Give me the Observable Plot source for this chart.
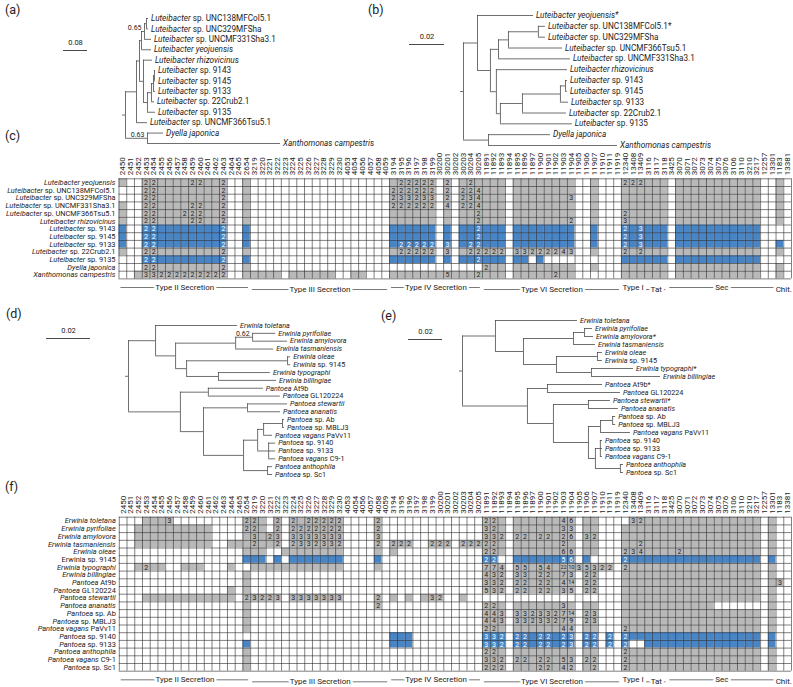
<!DOCTYPE html>
<html><head><meta charset="utf-8">
<script src="https://cdn.jsdelivr.net/npm/d3@7"></script>
<script src="https://cdn.jsdelivr.net/npm/@observablehq/plot@0.6"></script>
<style>
body{margin:0;background:#fff;}
#fig{position:relative;width:793px;height:687px;overflow:hidden;font-family:Roboto,"Open Sans",sans-serif;background:#fff;}
#fig svg{position:absolute;left:0;top:0;}
.plab{position:absolute;font-size:12.5px;color:#222;line-height:14px;}
</style></head><body><div id="fig"></div>
<script>
// ---------------- DATA ----------------
// Trees (Newick, branch lengths in substitutions/site, internal labels = support values)
const treeA = "(((((('Luteibacter sp. UNC138MFCol5.1':0.0067,'Luteibacter sp. UNC329MFSha':0.0067):0.0067,'Luteibacter sp. UNCMF331Sha3.1':0.0233)0.65:0.01,'Luteibacter yeojuensis':0.0333):0.0067,('Luteibacter rhizovicinus':0.03,(((('Luteibacter sp. 9143':0.0033,'Luteibacter sp. 9145':0.0033):0.0033,'Luteibacter sp. 9133':0.0067):0.0067,'Luteibacter sp. 22Crub2.1':0.01):0.0133,'Luteibacter sp. 9135':0.0267):0.0133):0.0133):0.01,'Luteibacter sp. UNCMF366Tsu5.1':0.0367):0.0367,('Dyella japonica':0.0533,'Xanthomonas campestris':0.4433)0.63:0.0733);";
const treeB = "(('Luteibacter yeojuensis*':0.032,(((('Luteibacter sp. UNC138MFCol5.1*':0.004,'Luteibacter sp. UNC329MFSha':0.004):0.0171,'Luteibacter sp. UNCMF366Tsu5.1':0.0309):0.0057,'Luteibacter sp. UNCMF331Sha3.1':0.0411):0.0046,('Luteibacter rhizovicinus':0.0406,(((('Luteibacter sp. 9143':0.0011,'Luteibacter sp. 9145':0.0011):0.0029,'Luteibacter sp. 9133':0.0046):0.0217,'Luteibacter sp. 22Crub2.1':0.0251):0.0126,'Luteibacter sp. 9135':0.0411):0.0023):0.0034):0.0074):0.008,('Dyella japonica':0.0354,'Xanthomonas campestris':0.0737):0.0143);";
const treeD = "(('Erwinia toletana':0.0373,((('Erwinia pyrifoliae':0.0105,'Erwinia amylovora':0.0159)0.62:0.0077,'Erwinia tasmaniensis':0.0173):0.0273,(('Erwinia oleae':0.0014,'Erwinia sp. 9145':0.0014):0.0459,('Erwinia typographi':0.0236,'Erwinia billingiae':0.0264):0.0145):0.005):0.0091):0.0123,(('Pantoea At9b':0.025,'Pantoea GL120224':0.0327):0.0127,(('Pantoea stewartii':0.0182,'Pantoea ananatis':0.015):0.02,(((('Pantoea sp. Ab':0.0009,'Pantoea sp. MBLJ3':0.0009):0.0086,'Pantoea vagans PaVv11':0.0041):0.0027,('Pantoea sp. 9140':0.0032,'Pantoea sp. 9133':0.0032,'Pantoea vagans C9-1':0.0032):0.005):0.0064,('Pantoea anthophila':0.0023,'Pantoea sp. Sc1':0.0023):0.0109):0.0182):0.0105):0.0236);";
const treeE = "(('Erwinia toletana':0.0482,((('Erwinia pyrifoliae':0.0047,'Erwinia amylovora*':0.0053):0.0065,'Erwinia tasmaniensis':0.0129):0.0294,(('Erwinia oleae':0.0029,'Erwinia sp. 9145':0.0029):0.0241,('Erwinia typographi*':0.0247,'Erwinia billingiae':0.0406):0.0206):0.0194):0.0165):0.0194,(('Pantoea At9b*':0.0324,'Pantoea GL120224':0.0429):0.0118,(('Pantoea stewartii*':0.0129,'Pantoea ananatis':0.0176):0.0206,((('Pantoea sp. Ab':0.0018,'Pantoea sp. MBLJ3':0.0018):0.0071,'Pantoea vagans PaVv11':0.0176):0.0071,(('Pantoea sp. 9140':0.0012,'Pantoea sp. 9133':0.0012,'Pantoea vagans C9-1':0.0012):0.0029,('Pantoea anthophila':0.0018,'Pantoea sp. Sc1':0.0018):0.0147):0.0041):0.0206):0.0153):0.0382);";
const scaleBarA = 0.08, scaleBarB = 0.02, scaleBarD = 0.02, scaleBarE = 0.02;

// Heatmap columns (gene ids) and functional groups
const columns = ["2450","2451","2452","2453","2454","2455","2456","2457","2458","2459","2460","2461","2462","2463","2464","2465","2654","3219","3220","3221","3222","3223","3224","3225","3226","3227","3228","3229","3230","4053","4054","4056","4057","4058","4059","3194","3195","3196","3197","3198","3199","30200","30201","30202","30203","30204","30205","11891","11892","11893","11894","11895","11896","11897","11900","11901","11902","11903","11904","11905","11906","11907","11910","11911","11919","12340","13408","13409","3116","3117","3118","3425","3070","3071","3072","3073","3074","3075","3076","3106","3110","3210","3217","12257","13301","1183","13381"];
const groupNames = ["Type II Secretion","Type III Secretion","Type IV Secretion","Type VI Secretion","Type I","Tat","Sec","Chit."];
const groupSizes = [17, 18, 12, 18, 3, 3, 14, 2];

// cell codes: "." absent, "x" present (1 copy), digit = copy number, A=10 E=14 M=22
const bigCounts = {A: 10, E: 14, M: 22};

const rowsC = ["Luteibacter yeojuensis","Luteibacter sp. UNC138MFCol5.1","Luteibacter sp. UNC329MFSha","Luteibacter sp. UNCMF331Sha3.1","Luteibacter sp. UNCMF366Tsu5.1","Luteibacter rhizovicinus","Luteibacter sp. 9143","Luteibacter sp. 9145","Luteibacter sp. 9133","Luteibacter sp. 22Crub2.1","Luteibacter sp. 9135","Dyella japonica","Xanthomonas campestris"];
const cellsC = [
 "x..22xxxx22xx2..x|..................|x22222.2.x2x|xxx.xxxxxxxx..x...|222xxx.xxxxxxxxxxx..x.",
 "...22xxxxxxxx2..x|..................|222222.2.224|xxx.xxxxxxxx..x...|xxxxxx.xxxxxxxxxxx..x.",
 "...22xxxxxxxx2..x|..................|233233.2.234|xxx.xxxxxxx3..x...|xxxxxx.xxxxxxxxxxx..x.",
 "x..22xxxx22xx2..x|..................|222222.4.224|xxx.xxxxxxxx..x...|xxxxxx.xxxxxxxxxxx..x.",
 "x..22xxx222xx2..x|..................|xxxxxx.x.xx2|xxx.xxxxxxxx..x...|2xxxxx.xxxxxxxxxxx..x.",
 "x..22xxxx22xx2..x|..................|xxxxxx.x.xx2|xxx.xxxxxxx2..x...|3xxxxx.xxxxxxxxxxx..x.",
 "x..22xxxxxxxx2..x|..................|xxxxxx.x.xx2|xxx.xxxxxxxx..x...|2x3xxx.xxxxxxxxxxx....",
 "x..22xxxxxxxx2..x|..................|xxxxxx.x.xx2|xxx.xxxxxxxx..x...|2x3xxx.xxxxxxxxxxx....",
 "x..22xxxxxxxx2..x|..................|x22222.3.x22|xxx.xxxxxxxx..x...|2x3xxx.xxxxxxxxxxx..x.",
 "x..22xxxxxxxx2..x|..................|x22222.3.x22|222.33222243..x...|2x2xxx.xxxxxxxxxxx..x.",
 "...22xxxxxxxx2..x|..................|xxxxxx.x.xx2|xxx.xx.x..........|xxxxxx.xxxxxxxxxxx....",
 "...22xxxxxxxx2..x|..................|............|2xx.xxxxxxxx..x...|xxxxxx.xxxxxxxxxxx..x.",
 "..x33222222222..x|xxxx.xxxxxx..xx...|xxxxxxx5xxx2|xxx.xxxxx2xx......|xxxxxx.xxxxxxxxxxx..x."
];
const blueC = ["Luteibacter sp. 9143","Luteibacter sp. 9145","Luteibacter sp. 9133","Luteibacter sp. 9135"];

const rowsF = ["Erwinia toletana","Erwinia pyrifoliae","Erwinia amylovora","Erwinia tasmaniensis","Erwinia oleae","Erwinia sp. 9145","Erwinia typographi","Erwinia billingiae","Pantoea At9b","Pantoea GL120224","Pantoea stewartii","Pantoea ananatis","Pantoea sp. Ab","Pantoea sp. MBLJ3","Pantoea vagans PaVv11","Pantoea sp. 9140","Pantoea sp. 9133","Pantoea anthophila","Pantoea vagans C9-1","Pantoea sp. Sc1"];
const cellsF = [
 "...xxx3.........2|2x.2.2x22222....2.|............|22x.xxxxxx46.xx...|.32xxxxxxxxxxxxxxx.x..",
 "..xxxxxxxxxx....2|2x.2.2222222....2.|............|32x.xxxxxx33.xx...|xxxxxxxxxxxxxxxxxx.x..",
 "..xxxxxxxxxx....x|3x23.3333333....3.|............|332.22x22x26.32...|xxxxxxxxxxxxxxxxxx.x..",
 "..xxxxxxxxxx..xxx|2xx2.2332332....2.|222..222.222|22x.xxxxxx2x.xx...|xx2xxxxxxxxxxxxxxx.x..",
 "................x|xx..xxxxxxxx....x.|x...........|22x.xxxxxx66.xx...|234xxxx2xxxxxxxxxx.x..",
 "................x|xx.x.xxxxxxx....x.|............|22..xxxxxx56.x....|2xxxxxxxxxxxxxxxxx.x..",
 "..x2xx..xxx...x..|xxxxxxxxxxxx....x.|............|774.55x54xMA35322.|2xxxxxxxxxxxxxxxxx.x..",
 "................x|..................|............|432.33x22x73.22...|xxxxxxxxxxxxxxxxxx.x..",
 "................x|..................|............|332.22x22x4E.22...|xxxxxxxxxxxxxxxxxx.x3.",
 "..............x.x|..................|............|532.22x22x35.22...|xxxxxxxxxxxxxxxxxx.x..",
 "...xxxxxxxxxxxx.2|3223.3333333....2.|x.x.x32..x..|..................|xxxxxxxxxxxxxxxxxx.x..",
 "................x|................2.|............|22x.xxxxxx3x.xx...|xxxxxxxxxxxx.......x..",
 "................x|..................|............|443.3323327E.23...|xxxxxxxxxxxxxxxxxx.x..",
 "................x|..................|............|443.33233279.23...|xxxxxxxxxxxxxxxxxx.x..",
 "................x|..................|............|22x.xxxxxx44.xx...|2xxxxxxxxxxxxxxxxx.x..",
 ".................|..................|xxx.........|332.22x22x23.22.2.|2xxxxxxxxxxxxxxxxx.x..",
 "................x|..................|xxx.........|332.22x22x23.22.2.|2..xxxxxxxxxxxxxxx.x..",
 "................x|..................|............|22x.xxxxxxxx.xx...|2xxxxxxxxxxxxxxxxx.x..",
 "................x|..................|............|332.22x22x53.22...|2xxxxxxxxxxxxxxxxx.x..",
 "................x|..................|............|222.xxx22x42.x2...|2xxxxxxxxxxxxxxxxx.x.."
];
const blueF = ["Erwinia sp. 9145","Pantoea sp. 9140","Pantoea sp. 9133"];
const uprightLabelsF = ["Erwinia sp. 9145"];

// ---------------- STYLE / LAYOUT ----------------
const W = 793, H = 687;
const FONT = "Roboto, 'Open Sans', sans-serif";
const INK = "#1c1c1c", BRANCH = "#4a4a4a", GRAY = "#b9b9b9", BLUE = "#4885c7", GRID = "#2b2b2b";
const NC = columns.length;
const fig = document.getElementById("fig");
const SVGNS = "http://www.w3.org/2000/svg";

function parseNewick(s) {
  let i = 0;
  function node() {
    const n = {children: [], name: "", len: 0};
    if (s[i] === "(") {
      i++; n.children.push(node());
      while (s[i] === ",") { i++; n.children.push(node()); }
      i++;
    }
    if (s[i] === "'") { const j = s.indexOf("'", i + 1); n.name = s.slice(i + 1, j); i = j + 1; }
    else { let j = i; while (j < s.length && !",():;".includes(s[j])) j++; n.name = s.slice(i, j).trim(); i = j; }
    if (s[i] === ":") { i++; let j = i; while (j < s.length && !",();".includes(s[j])) j++; n.len = +s.slice(i, j); i = j; }
    return n;
  }
  return node();
}
function layoutTree(root) {
  const nodes = [], leaves = [];
  (function walk(n, p) {
    n.parent = p; n.x = p ? p.x + n.len : 0; nodes.push(n);
    if (n.children.length) n.children.forEach(c => walk(c, n));
    else { n.y = leaves.length; leaves.push(n); }
  })(root, null);
  (function sety(n) {
    if (n.children.length) { n.children.forEach(sety); n.y = (n.children[0].y + n.children[n.children.length - 1].y) / 2; }
  })(root);
  return {nodes, leaves};
}
function labelParts(name, upright) {
  if (upright) return [{t: name, it: false}];
  const parts = []; let it = true;
  name.split(" ").forEach((w, i) => {
    if (i > 0 && (w === "sp." || !/^[a-z]+\*?$/.test(w))) it = false;
    const t = (i ? " " : "") + w;
    if (parts.length && parts[parts.length - 1].it === it) parts[parts.length - 1].t += t;
    else parts.push({t, it});
  });
  return parts;
}
function styleLabels(svg, names, uprights = []) {
  const map = new Map(names.map(n => [n, labelParts(n, uprights.includes(n))]));
  svg.querySelectorAll("text").forEach(t => {
    const parts = map.get(t.textContent);
    if (!parts) return;
    t.textContent = "";
    parts.forEach(p => {
      const ts = document.createElementNS(SVGNS, "tspan");
      ts.textContent = p.t;
      ts.setAttribute("font-style", p.it ? "italic" : "normal");
      t.appendChild(ts);
    });
  });
}
function place(svg) { svg.style.position = "absolute"; svg.style.left = "0px"; svg.style.top = "0px"; fig.appendChild(svg); }

function drawTree(newick, barValue, cfg) {
  const root = parseNewick(newick);
  const {nodes, leaves} = layoutTree(root);
  const n = leaves.length;
  const toU = px => (px - cfg.rootX) / cfg.pxPerUnit;
  const toY = py => (py - cfg.yTop) / (cfg.yBottom - cfg.yTop) * (n - 1);
  const branches = nodes.filter(d => d.parent);
  const internals = nodes.filter(d => d.children.length);
  const supports = internals.filter(d => d.name && !isNaN(+d.name));
  const bar = {v: barValue, x1: toU(cfg.barX), y: toY(cfg.barY)};
  const svg = Plot.plot({
    width: W, height: H, margin: 0,
    x: {type: "linear", domain: [0, 1], range: [cfg.rootX, cfg.rootX + cfg.pxPerUnit], axis: null},
    y: {type: "linear", domain: [0, n - 1], range: [cfg.yTop, cfg.yBottom], axis: null},
    style: {background: "transparent", overflow: "visible"},
    marks: [
      Plot.ruleY(branches, {y: "y", x1: d => d.parent.x, x2: "x", stroke: BRANCH, strokeWidth: 0.8}),
      Plot.ruleX(internals, {x: "x", y1: d => d.children[0].y, y2: d => d.children[d.children.length - 1].y, stroke: BRANCH, strokeWidth: 0.8}),
      Plot.ruleY([root], {y: "y", x1: toU(cfg.rootX - 3), x2: 0, stroke: BRANCH, strokeWidth: 0.8}),
      Plot.text(leaves, {x: "x", y: "y", text: "name", textAnchor: "start", dx: 2.5, fontSize: cfg.fontSize, fontFamily: FONT, fill: INK}),
      Plot.text(supports, {x: "x", y: "y", text: "name", textAnchor: "end", dx: -3, dy: -4, fontSize: 7, fontFamily: FONT, fill: INK}),
      Plot.ruleY([bar], {y: "y", x1: "x1", x2: d => d.x1 + d.v, stroke: INK, strokeWidth: 0.8}),
      Plot.text([bar], {x: d => d.x1 + d.v / 2, y: "y", text: d => String(d.v), dy: -8, fontSize: 7.5, fontFamily: FONT, fill: INK})
    ]
  });
  styleLabels(svg, leaves.map(d => d.name));
  place(svg);
}

function drawHeat(rows, rowCodes, blueRows, cfg) {
  const n = rows.length;
  const cells = [];
  rowCodes.forEach((str, r) => {
    const s = str.replace(/\|/g, "");
    if (s.length !== NC) console.warn("row length mismatch", rows[r], s.length);
    for (let c = 0; c < NC; c++) {
      const ch = s[c] || ".";
      const count = bigCounts[ch] ?? (/[2-9]/.test(ch) ? +ch : null);
      cells.push({r, c, on: ch !== ".", count, blue: blueRows.includes(rows[r])});
    }
  });
  let acc = 0;
  const groups = groupNames.map((name, i) => { const g = {name, i, start: acc, end: acc + groupSizes[i]}; acc += groupSizes[i]; return g; });
  const gy = d => n + (d.i % 2 ? 1.38 : 1.12);
  const svg = Plot.plot({
    width: W, height: H, margin: 0,
    x: {type: "linear", domain: [0, NC], range: [cfg.left, cfg.right], axis: null},
    y: {type: "linear", domain: [0, n], range: [cfg.top, cfg.top + n * cfg.cellH], axis: null},
    style: {background: "transparent", overflow: "visible"},
    marks: [
      Plot.rect(cells, {x1: "c", x2: d => d.c + 1, y1: "r", y2: d => d.r + 1, fill: d => !d.on ? "white" : d.blue ? BLUE : GRAY}),
      Plot.ruleX(d3.range(NC + 1), {x: d => d, y1: 0, y2: n, stroke: GRID, strokeWidth: 0.6}),
      Plot.ruleY(d3.range(n + 1), {y: d => d, x1: 0, x2: NC, stroke: GRID, strokeWidth: 0.6}),
      Plot.text(cells.filter(d => d.on && d.count), {x: d => d.c + 0.5, y: d => d.r + 0.5, text: d => String(d.count), fill: d => d.blue ? "white" : INK, fontSize: d => d.count >= 10 ? 5.5 : 7, fontFamily: FONT}),
      Plot.text(columns, {x: (d, i) => i + 0.5, y: -0.45, text: d => d, rotate: -90, textAnchor: "start", fontSize: 8, fontFamily: FONT, fill: INK}),
      Plot.text(rows, {x: 0, y: (d, i) => i + 0.5, text: d => d, textAnchor: "end", dx: -3.5, fontSize: 7.4, fontFamily: FONT, fill: INK}),
      Plot.ruleY(groups, {y: gy, x1: d => d.start + 0.25, x2: d => d.end - 0.25, stroke: INK, strokeWidth: 0.6}),
      Plot.text(groups, {x: d => (d.start + d.end) / 2, y: gy, text: "name", fontSize: 8, fontFamily: FONT, fill: INK, stroke: "white", strokeWidth: 5, paintOrder: "stroke"})
    ]
  });
  styleLabels(svg, rows, cfg.upright || []);
  place(svg);
}

drawTree(treeA, scaleBarA, {rootX: 125, pxPerUnit: 300, yTop: 18, yBottom: 143, fontSize: 8.2, barX: 63, barY: 50});
drawTree(treeB, scaleBarB, {rootX: 463, pxPerUnit: 1750, yTop: 15, yBottom: 145, fontSize: 8.2, barX: 409, barY: 44});
drawHeat(rowsC, cellsC, blueC, {left: 118.5, right: 791, top: 178.3, cellH: 7.7});
drawTree(treeD, scaleBarD, {rootX: 128, pxPerUnit: 2200, yTop: 325, yBottom: 474, fontSize: 7.2, barX: 46, barY: 338});
drawTree(treeE, scaleBarE, {rootX: 462, pxPerUnit: 1700, yTop: 320, yBottom: 472, fontSize: 7.2, barX: 408, barY: 339});
drawHeat(rowsF, cellsF, blueF, {left: 118.8, right: 791, top: 516.7, cellH: 7.7, upright: uprightLabelsF});

// panel letters
[["(a)", 5, 3], ["(b)", 368, 3], ["(c)", 5, 129], ["(d)", 6, 307], ["(e)", 381, 309], ["(f)", 5, 480]].forEach(([t, x, y]) => {
  const d = document.createElement("div"); d.className = "plab"; d.textContent = t;
  d.style.left = x + "px"; d.style.top = y + "px"; fig.appendChild(d);
});
</script></body></html>
